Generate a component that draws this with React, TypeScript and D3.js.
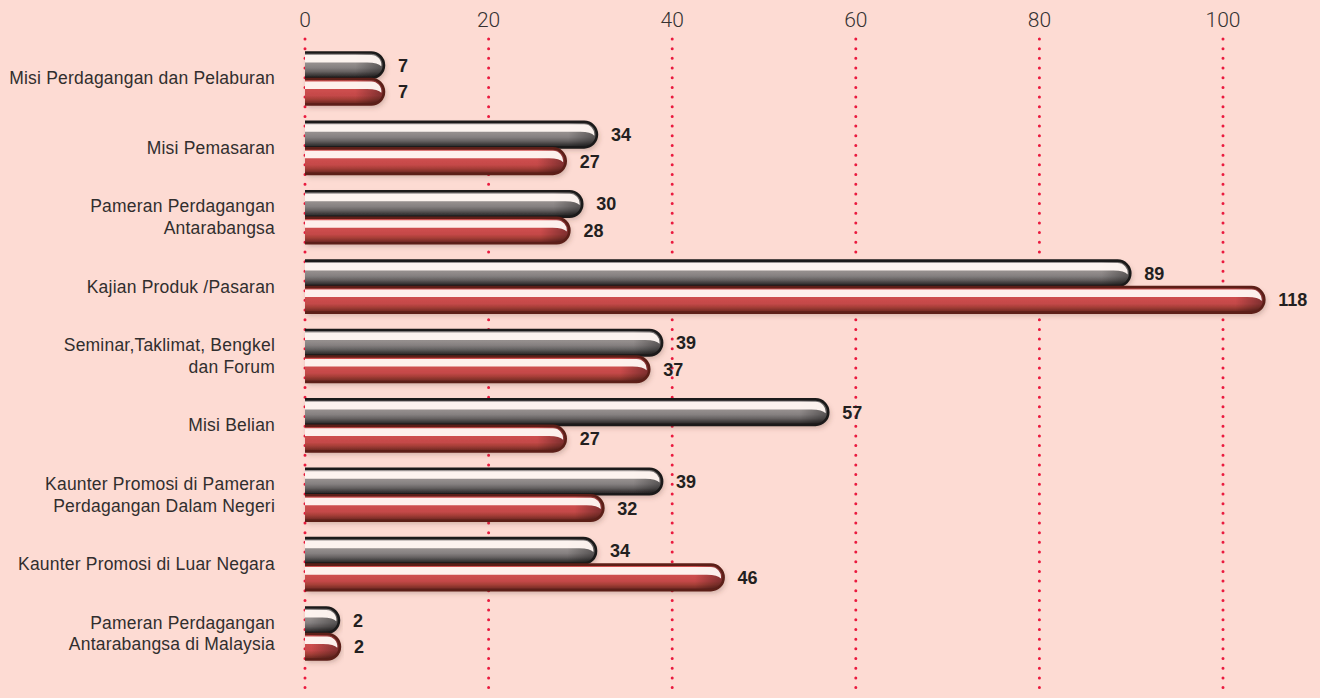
import React from "react";
import * as d3 from "d3";

// ---- Data ----
const categories: string[] = [
  "Misi Perdagangan dan Pelaburan",
  "Misi Pemasaran",
  "Pameran Perdagangan\nAntarabangsa",
  "Kajian Produk /Pasaran",
  "Seminar,Taklimat, Bengkel\ndan Forum",
  "Misi Belian",
  "Kaunter Promosi di Pameran\nPerdagangan Dalam Negeri",
  "Kaunter Promosi di Luar Negara",
  "Pameran Perdagangan\nAntarabangsa di Malaysia",
];
// labelled values
const series1Values: number[] = [7, 34, 30, 89, 39, 57, 39, 34, 2]; // grey bars
const series2Values: number[] = [7, 27, 28, 118, 37, 27, 32, 46, 2]; // red bars
// drawn bar extents, in axis units, as they appear against the axis
const series1Extent: number[] = [8.6, 31.8, 30.2, 89.9, 38.9, 57.0, 38.9, 31.7, 3.7];
const series2Extent: number[] = [8.6, 28.4, 28.8, 104.5, 37.5, 28.4, 32.5, 45.6, 3.8];
const xTicks: number[] = [0, 20, 40, 60, 80, 100];

const W = 1320;
const H = 698;

const x = d3.scaleLinear().domain([0, 100]).range([305, 1223]);
const y = d3.scaleBand<string>().domain(categories).range([43.8, 668.2]).padding(0);
const inner = d3.scaleBand<string>().domain(["s1", "s2"]).range([-26.5, 26.5]).padding(0);

const BAR_H = 25.5;

type Style = {
  grad: string;
  stroke: string;
};
const styles: Record<string, Style> = {
  s1: { grad: "url(#gGrey)", stroke: "#1b1a1a" },
  s2: { grad: "url(#gRed)", stroke: "#5c1f18" },
};

function Bar({ x0, x1, top, s }: { x0: number; x1: number; top: number; s: Style }) {
  const h = BAR_H;
  const r = h / 2;
  const cx = x1 - r;
  const cy = top + r;
  const body = `M${x0},${top} H${cx} A${r},${r} 0 0 1 ${cx},${top + h} H${x0} Z`;
  const outline = `M${x0},${top} H${cx} A${r},${r} 0 0 1 ${cx},${top + h} H${x0}`;
  const capStart = Math.max(x0, cx - 16);
  const cap = `M${capStart},${top} H${cx} A${r},${r} 0 0 1 ${cx},${top + h} H${capStart} Z`;
  const ri = r - 2.6;
  const a = (6 * Math.PI) / 180;
  const p1x = cx + ri * Math.cos(a);
  const p1y = cy + ri * Math.sin(a);
  const hl = `M${x0},${top + 2.4} H${cx} A${ri},${ri} 0 0 1 ${p1x},${p1y} Q${cx + 7},${top + 10} ${cx - 4},${top + 10} H${x0} Z`;
  return (
    <g>
      <path d={body} fill={s.grad} filter="url(#shadow)" />
      <path d={cap} fill="url(#gCap)" />
      <path d={hl} fill="#fff6f2" opacity={0.97} />
      <path d={outline} fill="none" stroke={s.stroke} strokeWidth={2.6} />
    </g>
  );
}

export default function App() {
  const rows = categories.map((c, i) => ({
    c,
    i,
    center: (y(c) as number) + y.bandwidth() / 2,
  }));
  const lh = 21.5;
  return (
    <svg
      width={W}
      height={H}
      viewBox={`0 0 ${W} ${H}`}
      style={{ position: "absolute", left: 0, top: 0, display: "block" }}
    >
      <defs>
        <linearGradient id="gGrey" x1="0" y1="0" x2="0" y2="1">
          <stop offset="0" stopColor="#9c9695" />
          <stop offset="0.45" stopColor="#938d8c" />
          <stop offset="0.6" stopColor="#858080" />
          <stop offset="0.75" stopColor="#666262" />
          <stop offset="0.88" stopColor="#3f3c3c" />
          <stop offset="1" stopColor="#1f1e1e" />
        </linearGradient>
        <linearGradient id="gRed" x1="0" y1="0" x2="0" y2="1">
          <stop offset="0" stopColor="#d05252" />
          <stop offset="0.45" stopColor="#cd4e4e" />
          <stop offset="0.65" stopColor="#c44848" />
          <stop offset="0.78" stopColor="#a73f38" />
          <stop offset="0.9" stopColor="#82302a" />
          <stop offset="1" stopColor="#5e231d" />
        </linearGradient>
        <linearGradient id="gCap" x1="0" y1="0" x2="1" y2="0">
          <stop offset="0" stopColor="#000" stopOpacity={0} />
          <stop offset="1" stopColor="#000" stopOpacity={0.38} />
        </linearGradient>
        <filter id="shadow" x="-5%" y="-40%" width="115%" height="200%">
          <feDropShadow dx="2" dy="3" stdDeviation="2.5" floodColor="#5a3a33" floodOpacity="0.28" />
        </filter>
      </defs>
      <rect x={0} y={0} width={W} height={H} fill="#fddbd3" />

      {/* grid */}
      {xTicks.map((t) => (
        <g key={t}>
          <line
            x1={x(t)}
            x2={x(t)}
            y1={39}
            y2={694}
            stroke="#ea1a3e"
            strokeWidth={3}
            strokeLinecap="round"
            strokeDasharray="0 9.68"
          />
          <text
            x={x(t)}
            y={27}
            textAnchor="middle"
            fontFamily="Roboto, 'Liberation Sans', sans-serif"
            fontWeight={300}
            fontSize={21}
            fill="#353232"
          >
            {t}
          </text>
        </g>
      ))}

      {/* category labels */}
      {rows.map(({ c, center }) => {
        const lines = c.split("\n");
        const first = center - ((lines.length - 1) * lh) / 2 + 6;
        return (
          <text
            key={c}
            x={275}
            textAnchor="end"
            fontFamily="'Liberation Sans', Arial, sans-serif"
            fontSize={17.5}
            letterSpacing={0.2}
            fill="#312e2e"
          >
            {lines.map((ln, k) => (
              <tspan key={k} x={275} y={first + k * lh}>
                {ln}
              </tspan>
            ))}
          </text>
        );
      })}

      {/* bars */}
      {rows.map(({ c, i, center }) => (
        <g key={c}>
          {(["s1", "s2"] as const).map((sk) => {
            const ext = sk === "s1" ? series1Extent[i] : series2Extent[i];
            const val = sk === "s1" ? series1Values[i] : series2Values[i];
            const top = center + (inner(sk) as number) + 0.5;
            const x1 = x(ext);
            return (
              <g key={sk}>
                <Bar x0={x(0)} x1={x1} top={top} s={styles[sk]} />
                <text
                  x={x1 + 14}
                  y={top + BAR_H / 2 + 6.5}
                  fontFamily="'Liberation Sans', Arial, sans-serif"
                  fontWeight={700}
                  fontSize={18}
                  fill="#231f20"
                >
                  {val}
                </text>
              </g>
            );
          })}
        </g>
      ))}
    </svg>
  );
}
